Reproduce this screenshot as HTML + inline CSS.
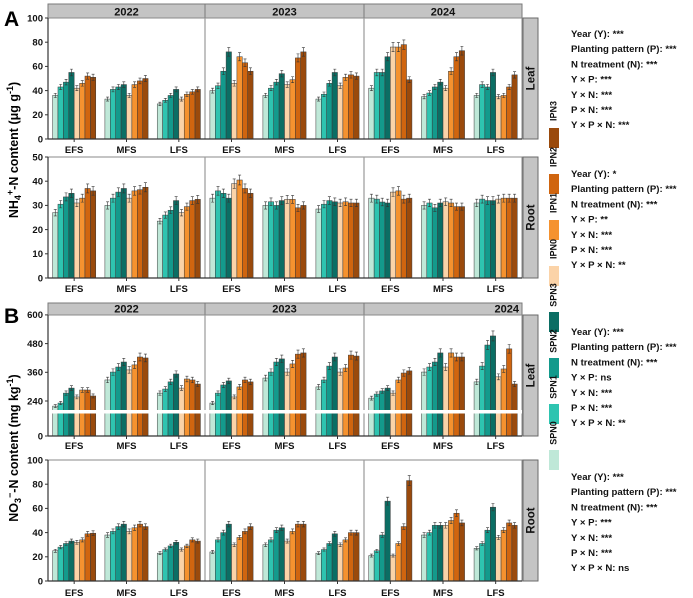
<!DOCTYPE html>
<html><head><meta charset="utf-8"><style>
html,body{margin:0;padding:0;background:#fff}
svg{display:block;font-family:"Liberation Sans",Arial,sans-serif}
.t{font-weight:bold;font-size:9.5px;fill:#111}
.st{font-weight:bold;font-size:9.6px;fill:#111}
</style></head><body>
<svg id="chart" width="693" height="598" viewBox="0 0 693 598"></svg>
<script>
const years = ['2022','2023','2024'];
const stages = ['EFS','MFS','LFS'];
const seriesNames = ['SPN0','SPN1','SPN2','SPN3','IPN0','IPN1','IPN2','IPN3'];
const seriesColors = ['#bfe8d8','#2ec4b0','#139a8c','#0b6e64','#fbd3a8','#f5922f','#d0650f','#9a4a0c'];
const nh4Leaf = [
 [36,43,47,55,42,46,52,51],[33,41,43,45,36,45,48,50],[29,32,36,41,33,37,39,41],
 [40,44,56,72,46,68,63,56],[36,42,47,54,45,49,67,72],[33,37,46,55,44,51,53,52],
 [42,55,55,68,76,76,78,49],[35,38,43,47,42,56,68,73],[36,45,43,55,35,36,43,53]];
const nh4Root = [
 [27,30.5,33.5,35,31,33,37,36],[30,33,35.5,37,33,36,36.5,37.5],[23.5,26,28,32,27,29.5,32,32.5],
 [33,36,35,33,39,40.5,37,35],[30,31.5,30,32,32.5,32.5,29,30],[28.5,30.5,32,31.5,31,31.5,31,31],
 [33,32.6,31.4,31,35.5,36,32.6,33],[30,31,29,31,31.5,31,29.5,29.5],[31,32.6,32,32,32.6,33,33,33]];
const no3Leaf = [
 [205,226,273,294,257,286,286,261],[328,361,382,403,370,391,424,420],[273,290,320,353,294,332,328,311],
 [226,273,307,324,257,299,328,320],[336,361,403,416,361,395,436,441],[299,328,386,424,361,378,432,428],
 [252,269,282,294,273,328,357,366],[361,382,403,441,382,441,424,424],[320,386,474,512,341,374,458,311]];
const no3Root = [
 [25,28,31,33,32,34,39,39.5],[38,41,45,47,41,44,47,45],[23,26,29,32,26,29,34,33],
 [24,34,40,47,30,36,41,45],[30,34,42,44,33,41,47,47],[23,26,31,39,30,34,40,40],
 [21,25,38,66,21,31,45,83],[38,40,46,46,46,50,56,48],[27,31,42,61,36,42,48,46]];
const ticksNH4Leaf = [0,20,40,60,80,100];
const ticksNH4Root = [0,10,20,30,40,50];
const ticksNO3Leaf = [0,240,360,480,600];
const ticksNO3Root = [0,20,40,60,80,100];
const statsA1 = ['Year (Y): ***','Planting pattern (P): ***','N treatment (N): ***','Y × P: ***','Y × N: ***','P × N: ***','Y × P × N: ***'];
const statsA2 = ['Year (Y): *','Planting pattern (P): ***','N treatment (N): ***','Y × P: **','Y × N: ***','P × N: ***','Y × P × N: **'];
const statsB1 = ['Year (Y): ***','Planting pattern (P): ***','N treatment (N): ***','Y × P: ns','Y × N: ***','P × N: ***','Y × P × N: **'];
const statsB2 = ['Year (Y): ***','Planting pattern (P): ***','N treatment (N): ***','Y × P: ***','Y × N: ***','P × N: ***','Y × P × N: ns'];

const NS='http://www.w3.org/2000/svg';
const svg=document.getElementById('chart');
function mk(tag,attrs,parent){const e=document.createElementNS(NS,tag);for(const k in attrs)e.setAttribute(k,attrs[k]);(parent||svg).appendChild(e);return e;}
function txt(s,attrs,parent){const e=mk('text',attrs,parent);e.textContent=s;return e;}

const X0=48, X1=522;
const panX=[48,205,364], panW=[157,159,158];
function xCenter(g){const p=Math.floor(g/3),i=g%3;return panX[p]+(i+0.5)*panW[p]/3;}
function linScale(top,bottom,max){return v=>bottom-(v/max)*(bottom-top);}
function breakScale(v){return v>=240?401-(v-240)*28.7/120:436-v*35/240;}

const panels=[
 {name:'nh4-leaf',data:nh4Leaf,ticks:ticksNH4Leaf,top:18,bottom:139,y:linScale(18,139,100),side:'Leaf',stats:statsA1,sy:37,lab:153},
 {name:'nh4-root',data:nh4Root,ticks:ticksNH4Root,top:157,bottom:278,y:linScale(157,278,50),side:'Root',stats:statsA2,sy:177,lab:292},
 {name:'no3-leaf',data:no3Leaf,ticks:ticksNO3Leaf,top:315,bottom:436,y:breakScale,side:'Leaf',stats:statsB1,sy:335,lab:449,brk:true},
 {name:'no3-root',data:no3Root,ticks:ticksNO3Root,top:460,bottom:581,y:linScale(460,581,100),side:'Root',stats:statsB2,sy:480,lab:596}
];

[[4,18],[303,315]].forEach((s,si)=>{
 years.forEach((yr,p)=>{
  const r=mk('rect',{x:panX[p],y:s[0],width:panW[p],height:s[1]-s[0],fill:'#c4c4c4',stroke:'#7a7a7a','stroke-width':1});
  
  
  const right=(si===1&&p===2);
  const t=txt(yr,{x:right?panX[p]+panW[p]-3:panX[p]+panW[p]/2,y:s[1]-2.5,'text-anchor':right?'end':'middle',class:'t'});
  t.setAttribute('style','font-size:11px');
  
  
 });
});

panels.forEach(P=>{
 const g=mk('g',{});
 
 
 mk('rect',{x:X0,y:P.top,width:X1-X0,height:P.bottom-P.top,fill:'#fff',stroke:'#8a8a8a','stroke-width':1},g);
 [205,364].forEach(x=>mk('line',{x1:x,x2:x,y1:P.top,y2:P.bottom,stroke:'#9a9a9a','stroke-width':1.2},g));
 P.data.forEach((vals,gi)=>{
  const cx=xCenter(gi);
  vals.forEach((v,j)=>{
   const bx=cx-21.6+j*5.4, by=P.y(v);
   const b=mk('rect',{x:bx,y:by,width:5.4,height:P.bottom-by,fill:seriesColors[j],stroke:'#3a3a3a','stroke-width':0.5},g);
   
   
   const ecx=bx+2.7, e=Math.max(1.5,(P.bottom-by)*0.05);
   mk('path',{d:`M${ecx},${by-e}V${by+e}M${ecx-1.5},${by-e}H${ecx+1.5}M${ecx-1.5},${by+e}H${ecx+1.5}`,stroke:'#333','stroke-width':0.6,fill:'none'},g);
  });
  mk('line',{x1:cx,x2:cx,y1:P.bottom,y2:P.bottom+3,stroke:'#333'},g);
  const lt=txt(stages[gi%3],{x:cx,y:P.lab,'text-anchor':'middle',class:'t'},g);
  
  
 });
 if(P.brk){mk('rect',{x:X0-3,y:410,width:X1-X0+3,height:3.5,fill:'#fff'},g);}
 mk('line',{x1:X0,x2:X0,y1:P.top,y2:P.bottom,stroke:'#333','stroke-width':1.2},g);
 mk('line',{x1:X0,x2:X1,y1:P.bottom,y2:P.bottom,stroke:'#333','stroke-width':1.2},g);
 P.ticks.forEach(t=>{
  const y=P.y(t);
  mk('line',{x1:X0-3,x2:X0,y1:y,y2:y,stroke:'#333'},g);
  const tl=txt(String(t),{x:X0-5,y:y+3.3,'text-anchor':'end',class:'t'},g);
  
  
 });
 mk('rect',{x:523,y:P.top,width:15,height:P.bottom-P.top,fill:'#c4c4c4',stroke:'#6a6a6a'},g);
 const sc=(P.top+P.bottom)/2;
 const sl=txt(P.side,{x:530.5,y:sc,'text-anchor':'middle',class:'t',transform:`rotate(-90 530.5 ${sc}) translate(0 4)`,style:'font-size:11.5px'},g);
 
 
 P.stats.forEach((s,k)=>{
  const st=txt(s,{x:571,y:P.sy+k*15.2,class:'st'});
  
  
 });
});

const legendOrder=[7,6,5,4,3,2,1,0];
legendOrder.forEach((si,k)=>{
 const ly=100+k*46;
 const lt=txt(seriesNames[si],{x:553,y:ly+11,'text-anchor':'middle',class:'t',transform:`rotate(-90 553 ${ly+11}) translate(0 3.5)`,style:'font-size:9px'});
 
 
 const r=mk('rect',{x:549,y:ly+28,width:10,height:20,fill:seriesColors[si]});
 
 
});

const la=txt('A',{x:4,y:26,style:'font-size:21px;font-weight:bold'});


const lb=txt('B',{x:4,y:323,style:'font-size:21px;font-weight:bold'});



const ya=mk('text',{x:18,y:150,'text-anchor':'middle',transform:'rotate(-90 18 150)',style:'font-size:12.5px;font-weight:bold'});
ya.innerHTML='NH<tspan dy="3" font-size="9">4</tspan><tspan dy="-8" font-size="9">+</tspan><tspan dy="5">-N content (μg g</tspan><tspan dy="-5" font-size="9">-1</tspan><tspan dy="5">)</tspan>';


const yb=mk('text',{x:18,y:448,'text-anchor':'middle',transform:'rotate(-90 18 448)',style:'font-size:12.5px;font-weight:bold'});
yb.innerHTML='NO<tspan dy="3" font-size="9">3</tspan><tspan dy="-8" font-size="9">−</tspan><tspan dy="5">-N content (mg kg</tspan><tspan dy="-5" font-size="9">-1</tspan><tspan dy="5">)</tspan>';


</script>
</body></html>
